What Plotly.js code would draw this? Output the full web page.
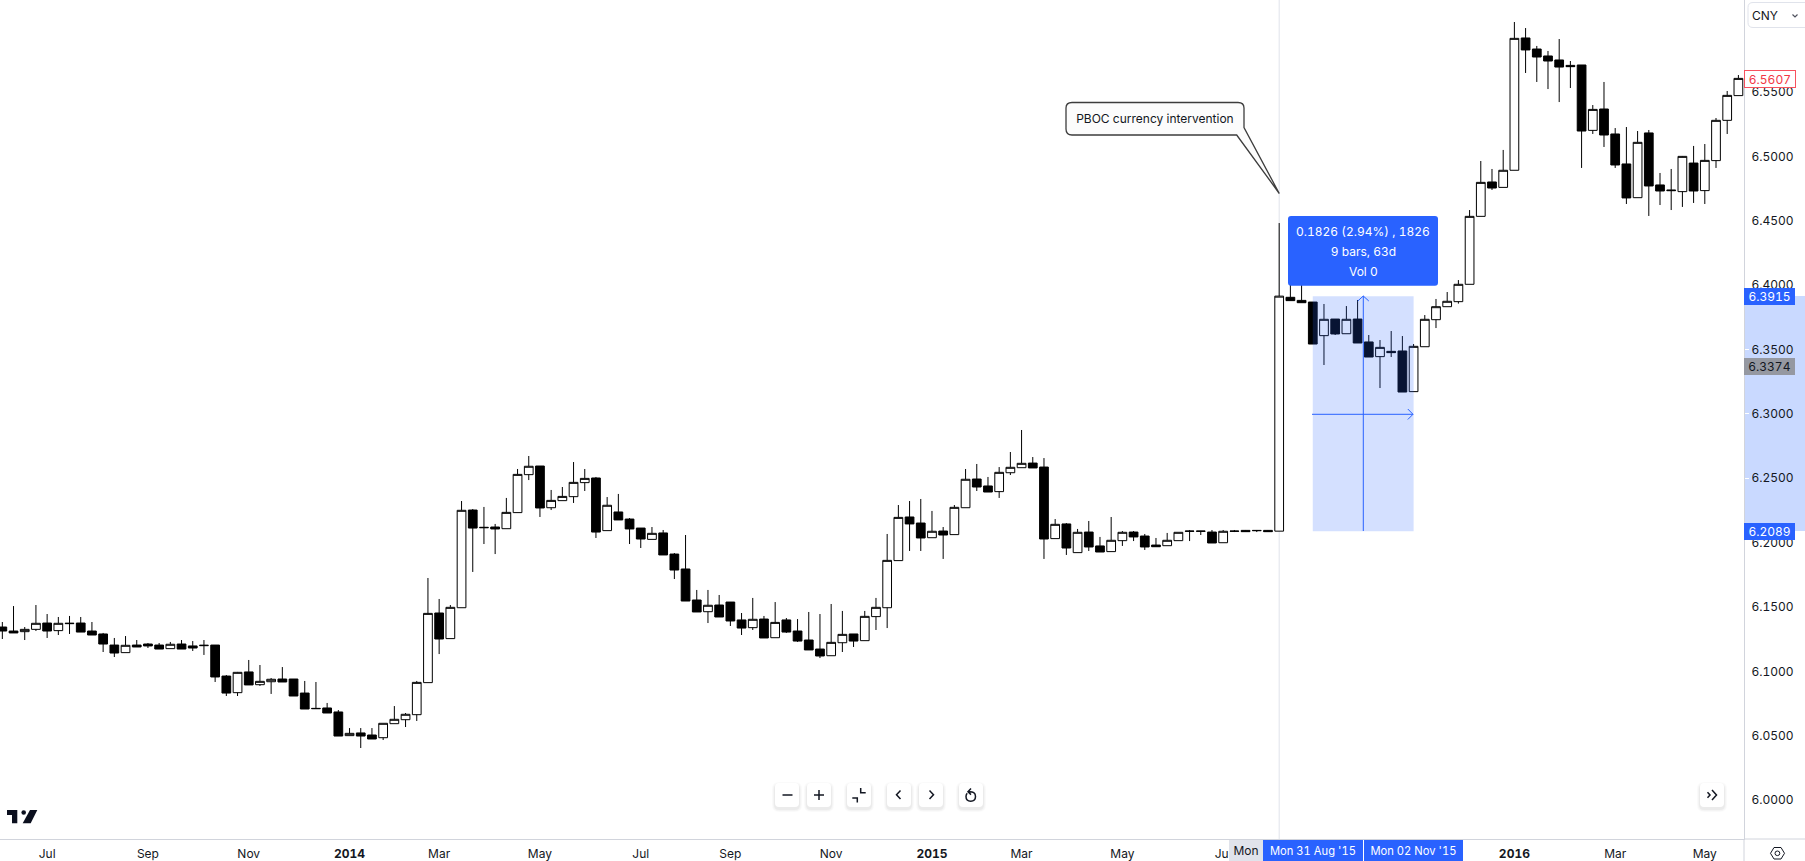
<!DOCTYPE html>
<html>
<head>
<meta charset="utf-8">
<title>USD/CNY weekly</title>
<script src="https://cdn.plot.ly/plotly-3.0.1.min.js"></script>
<style>html,body{margin:0;padding:0;background:#fff;overflow:hidden}#chart{width:1805px;height:861px}#chart text{font-variant-numeric:tabular-nums;font-feature-settings:"tnum"}</style>
</head>
<body>
<div id="chart"></div>
<script>
const dates = [
"2013-06-03","2013-06-10","2013-06-17","2013-06-24","2013-07-01","2013-07-08","2013-07-15","2013-07-22","2013-07-29",
"2013-08-05","2013-08-12","2013-08-19","2013-08-26","2013-09-02","2013-09-09","2013-09-16","2013-09-23","2013-09-30",
"2013-10-07","2013-10-14","2013-10-21","2013-10-28","2013-11-04","2013-11-11","2013-11-18","2013-11-25",
"2013-12-02","2013-12-09","2013-12-16","2013-12-23","2013-12-30","2014-01-06","2014-01-13","2014-01-20","2014-01-27",
"2014-02-03","2014-02-10","2014-02-17","2014-02-24","2014-03-03","2014-03-10","2014-03-17","2014-03-24","2014-03-31",
"2014-04-07","2014-04-14","2014-04-21","2014-04-28","2014-05-05","2014-05-12","2014-05-19","2014-05-26",
"2014-06-02","2014-06-09","2014-06-16","2014-06-23","2014-06-30","2014-07-07","2014-07-14","2014-07-21","2014-07-28",
"2014-08-04","2014-08-11","2014-08-18","2014-08-25","2014-09-01","2014-09-08","2014-09-15","2014-09-22","2014-09-29",
"2014-10-06","2014-10-13","2014-10-20","2014-10-27","2014-11-03","2014-11-10","2014-11-17","2014-11-24",
"2014-12-01","2014-12-08","2014-12-15","2014-12-22","2014-12-29","2015-01-05","2015-01-12","2015-01-19","2015-01-26",
"2015-02-02","2015-02-09","2015-02-16","2015-02-23","2015-03-02","2015-03-09","2015-03-16","2015-03-23","2015-03-30",
"2015-04-06","2015-04-13","2015-04-20","2015-04-27","2015-05-04","2015-05-11","2015-05-18","2015-05-25",
"2015-06-01","2015-06-08","2015-06-15","2015-06-22","2015-06-29","2015-07-06","2015-07-13","2015-07-20","2015-07-27",
"2015-08-03","2015-08-10","2015-08-17","2015-08-24","2015-08-31","2015-09-07","2015-09-14","2015-09-21","2015-09-28",
"2015-10-05","2015-10-12","2015-10-19","2015-10-26","2015-11-02","2015-11-09","2015-11-16","2015-11-23","2015-11-30",
"2015-12-07","2015-12-14","2015-12-21","2015-12-28","2016-01-04","2016-01-11","2016-01-18","2016-01-25",
"2016-02-01","2016-02-08","2016-02-15","2016-02-22","2016-02-29","2016-03-07","2016-03-14","2016-03-21","2016-03-28",
"2016-04-04","2016-04-11","2016-04-18","2016-04-25","2016-05-02","2016-05-09","2016-05-16","2016-05-23"];

const opens = [
6.1344,6.1313,6.1308,6.1326,6.1375,6.1316,6.1370,6.1375,6.1313,6.1290,
6.1204,6.1145,6.1204,6.1212,6.1204,6.1176,6.1212,6.1197,6.1199,6.1204,
6.0963,6.0834,6.0995,6.0896,6.0919,6.0940,6.0940,6.0831,6.0712,6.0715,
6.0684,6.0500,6.0521,6.0505,6.0484,6.0593,6.0624,6.0663,6.0912,6.1453,
6.1254,6.1494,6.2253,6.2119,6.2121,6.2108,6.2233,6.2528,6.2595,6.2271,
6.2326,6.2357,6.2466,6.2502,6.2093,6.2238,6.2183,6.2113,6.2025,6.2075,
6.1911,6.1795,6.1554,6.1463,6.1515,6.1538,6.1399,6.1339,6.1406,6.1261,
6.1399,6.1313,6.1243,6.1173,6.1121,6.1222,6.1290,6.1238,6.1425,6.1494,
6.1860,6.2199,6.2152,6.2038,6.2090,6.2062,6.2271,6.2494,6.2440,6.2396,
6.2543,6.2582,6.2618,6.2587,6.2031,6.2145,6.1922,6.2082,6.1974,6.1930,
6.2015,6.2082,6.2051,6.1981,6.1976,6.2015,6.2090,6.2090,6.2082,6.1999,
6.2090,6.2095,6.2095,6.2095,6.2089,6.3906,6.3882,6.3869,6.3608,6.3737,
6.3623,6.3737,6.3559,6.3445,6.3486,6.3489,6.3173,6.3522,6.3732,6.3833,
6.3872,6.4007,6.4535,6.4802,6.4760,6.4893,6.5921,6.5835,6.5781,6.5750,
6.5708,6.5711,6.5203,6.5369,6.5175,6.4942,6.4680,6.5183,6.4779,6.4740,
6.4727,6.4949,6.4735,6.4968,6.5281,6.5473];

const highs = [
6.1383,6.1507,6.1344,6.1515,6.1445,6.1422,6.1430,6.1422,6.1383,6.1298,
6.1259,6.1274,6.1243,6.1220,6.1220,6.1228,6.1243,6.1235,6.1243,6.1204,
6.0971,6.0995,6.1088,6.1049,6.0948,6.1033,6.0940,6.0925,6.0917,6.0754,
6.0699,6.0559,6.0559,6.0559,6.0596,6.0730,6.0676,6.0925,6.1725,6.1562,
6.1515,6.2323,6.2261,6.2277,6.2145,6.2347,6.2572,6.2673,6.2595,6.2409,
6.2432,6.2626,6.2572,6.2510,6.2354,6.2378,6.2191,6.2113,6.2121,6.2098,
6.1919,6.2059,6.1632,6.1632,6.1593,6.1538,6.1453,6.1570,6.1430,6.1538,
6.1414,6.1406,6.1461,6.1445,6.1523,6.1469,6.1290,6.1469,6.1570,6.2067,
6.2292,6.2323,6.2339,6.2246,6.2121,6.2292,6.2572,6.2611,6.2510,6.2587,
6.2704,6.2875,6.2665,6.2657,6.2183,6.2152,6.2106,6.2168,6.2044,6.2199,
6.2090,6.2090,6.2067,6.2036,6.2075,6.2080,6.2098,6.2090,6.2098,6.2098,
6.2098,6.2098,6.2098,6.2098,6.4483,6.4118,6.4066,6.3869,6.3854,6.3737,
6.3838,6.3885,6.3613,6.3574,6.3644,6.3605,6.3543,6.3768,6.3893,6.3947,
6.4040,6.4584,6.4965,6.4903,6.5051,6.6045,6.5998,6.5859,6.5820,6.5913,
6.5742,6.5711,6.5400,6.5579,6.5221,6.5229,6.5198,6.5206,6.4872,6.4903,
6.5004,6.5082,6.5097,6.5299,6.5509,6.5633];

const lows = [
6.1251,6.1298,6.1243,6.1313,6.1259,6.1282,6.1290,6.1305,6.1282,6.1150,
6.1111,6.1145,6.1189,6.1181,6.1173,6.1176,6.1173,6.1158,6.1127,6.0917,
6.0808,6.0808,6.0894,6.0886,6.0824,6.0917,6.0808,6.0707,6.0710,6.0676,
6.0497,6.0500,6.0404,6.0474,6.0466,6.0593,6.0567,6.0614,6.0912,6.1134,
6.1254,6.1494,6.1772,6.1989,6.1911,6.2108,6.2233,6.2486,6.2199,6.2253,
6.2326,6.2308,6.2401,6.2036,6.2093,6.2176,6.1989,6.1958,6.2025,6.1904,
6.1717,6.1546,6.1461,6.1375,6.1422,6.1352,6.1282,6.1321,6.1259,6.1261,
6.1298,6.1228,6.1166,6.1103,6.1121,6.1150,6.1189,6.1238,6.1321,6.1336,
6.1860,6.1935,6.1935,6.2038,6.1873,6.2062,6.2271,6.2401,6.2393,6.2347,
6.2525,6.2582,6.2580,6.1873,6.2031,6.1904,6.1922,6.1935,6.1927,6.1930,
6.1974,6.2012,6.1943,6.1968,6.1976,6.2015,6.2012,6.2059,6.1997,6.1999,
6.2082,6.2085,6.2082,6.2085,6.2089,6.3880,6.3864,6.3543,6.3380,6.3613,
6.3623,6.3551,6.3442,6.3201,6.3442,6.3170,6.3173,6.3522,6.3667,6.3833,
6.3857,6.4007,6.4535,6.4740,6.4760,6.4893,6.5649,6.5579,6.5524,6.5423,
6.5532,6.4911,6.5175,6.5074,6.4911,6.4631,6.4680,6.4538,6.4623,6.4584,
6.4608,6.4639,6.4631,6.4911,6.5175,6.5473];

const closes = [
6.1313,6.1298,6.1326,6.1373,6.1313,6.1373,6.1373,6.1305,6.1282,6.1212,
6.1142,6.1202,6.1189,6.1197,6.1173,6.1210,6.1173,6.1181,6.1202,6.0956,
6.0831,6.0992,6.0894,6.0922,6.0938,6.0917,6.0808,6.0707,6.0710,6.0676,
6.0497,6.0518,6.0497,6.0474,6.0596,6.0627,6.0666,6.0914,6.1450,6.1251,
6.1497,6.2251,6.2113,6.2116,6.2106,6.2235,6.2530,6.2593,6.2269,6.2328,
6.2359,6.2468,6.2499,6.2082,6.2290,6.2176,6.2106,6.2028,6.2072,6.1904,
6.1787,6.1546,6.1461,6.1513,6.1422,6.1391,6.1336,6.1404,6.1259,6.1380,
6.1305,6.1235,6.1166,6.1119,6.1225,6.1287,6.1235,6.1427,6.1497,6.1862,
6.2196,6.2145,6.2036,6.2088,6.2059,6.2274,6.2492,6.2432,6.2393,6.2546,
6.2585,6.2616,6.2580,6.2028,6.2142,6.1958,6.2080,6.1966,6.1927,6.2018,
6.2080,6.2044,6.1966,6.1968,6.2018,6.2080,6.2088,6.2088,6.1997,6.2088,
6.2088,6.2085,6.2093,6.2085,6.3915,6.3880,6.3864,6.3543,6.3735,6.3621,
6.3735,6.3551,6.3442,6.3517,6.3476,6.3170,6.3525,6.3735,6.3833,6.3875,
6.4007,6.4535,6.4799,6.4755,6.4893,6.5918,6.5828,6.5773,6.5742,6.5695,
6.5698,6.5198,6.5366,6.5167,6.4934,6.4678,6.5110,6.4771,6.4732,6.4735,
6.5001,6.4732,6.4970,6.5281,6.5475,6.5607];

const tickDates = ["2013-07-01","2013-09-02","2013-11-04","2014-01-06","2014-03-03","2014-05-05","2014-07-07","2014-09-01","2014-11-03","2015-01-05","2015-03-02","2015-05-04","2015-07-06","2016-01-04","2016-03-07","2016-05-02"];
const tickLabels = ["Jul","Sep","Nov","<b>2014</b>","Mar","May","Jul","Sep","Nov","<b>2015</b>","Mar","May","Jul","<b>2016</b>","Mar","May"];
const priceTicks = [6.00,6.05,6.10,6.15,6.20,6.25,6.30,6.35,6.40,6.45,6.50,6.55];
const priceLabels = ["6.0000","6.0500","6.1000","6.1500","6.2000","6.2500","6.3000","6.3500","6.4000","6.4500","6.5000","6.5500"];

const W = 1805, H = 861, PW = 1744, PH = 839;
const INK = "#131722", BLUE = "#2962ff", RULE = "#d1d4dc";
const FONT = "Inter, 'Noto Sans', sans-serif";
const fx = x => x / PW, fy = y => 1 - y / PH;
const path = s => s.replace(/(-?[\d.]+),(-?[\d.]+)/g, (m, a, b) => fx(+a) + "," + fy(+b));
const pathShape = (s, o) => Object.assign({type: "path", xref: "paper", yref: "paper", path: path(s), layer: "above", line: {width: 0}}, o || {});
const stroke = (s, color, w) => pathShape(s, {line: {color: color || INK, width: w || 1.5}});
const rrect = (x0, y0, x1, y1, r) =>
  `M${x0+r},${y0} L${x1-r},${y0} Q${x1},${y0} ${x1},${y0+r} L${x1},${y1-r} Q${x1},${y1} ${x1-r},${y1} L${x0+r},${y1} Q${x0},${y1} ${x0},${y1-r} L${x0},${y0+r} Q${x0},${y0} ${x0+r},${y0} Z`;

function button(x0, y0) {
  const x1 = x0 + 24, y1 = y0 + 24, list = [];
  [[3, 0.018], [2, 0.025], [1, 0.035]].forEach(([g, a]) =>
    list.push(pathShape(rrect(x0 - g, y0 + 2 - g, x1 + g, y1 + 2 + g, 4 + g), {fillcolor: `rgba(0,0,0,${a})`})));
  list.push(pathShape(rrect(x0, y0, x1, y1, 4), {fillcolor: "#ffffff"}));
  return list;
}

const shapes = [
  {type: "line", xref: "x", yref: "paper", x0: "2015-08-10", x1: "2015-08-10", y0: 0, y1: 1, layer: "below", line: {color: "#e0e3eb", width: 1}},
  pathShape(`M${PW},296 L${W},296 L${W},531 L${PW},531 Z`, {layer: "below", fillcolor: "#c9d9ff"}),
  {type: "rect", xref: "x", yref: "y", x0: "2015-08-31", x1: "2015-11-02", y0: 6.2089, y1: 6.3915, layer: "above", fillcolor: "rgba(41,98,255,0.2)", line: {width: 0}},
  stroke("M1363.3,531 L1363.3,296 M1357.8,301 L1363.3,296 L1368.8,301", BLUE, 1),
  stroke("M1312,414.3 L1413,414.3 M1407.8,409 L1413,414.3 L1407.8,419.5", BLUE, 1),
  pathShape("M1066,108 Q1066,102.5 1072,102.5 L1238,102.5 Q1244,102.5 1244,108 L1244,127.5 L1279.3,193.5 L1236.7,135 L1072,135 Q1066,135 1066,129 Z", {fillcolor: "#fcfcfc", line: {color: "#3d3d3d", width: 1.3}}),
  pathShape(rrect(1288, 216, 1438, 285.7, 3), {fillcolor: BLUE}),
  stroke(`M${PW},${PH} L${PW},${H} M${PW},${PH} L${W},${PH}`, RULE, 1),
  pathShape(rrect(1748, 2.5, 1812, 27.5, 5), {fillcolor: "#ffffff", line: {color: "#e0e3eb", width: 1}}),
  stroke("M1792.5,14.5 L1795,17 L1797.5,14.5", "#50535e", 1.2),
  // logo
  pathShape("M7,810 L17.3,810 L17.3,823.3 L12,823.3 L12,815 L7,815 Z", {fillcolor: "#0b0f1e"}),
  pathShape("M21.4,812.5 Q21.4,810.2 23.7,810.2 Q26,810.2 26,812.5 Q26,814.8 23.7,814.8 Q21.4,814.8 21.4,812.5 Z", {fillcolor: "#0b0f1e"}),
  pathShape("M30,810 L37.3,810 L30.7,823.3 L22.7,823.3 Z", {fillcolor: "#0b0f1e"}),
  // settings icon
  stroke("M1770.5,853.3 L1774,847.5 L1781,847.5 L1784.5,853.3 L1781,859 L1774,859 Z", INK, 1),
  stroke("M1775,853.3 Q1775,851 1777.4,851 Q1779.8,851 1779.8,853.3 Q1779.8,855.6 1777.4,855.6 Q1775,855.6 1775,853.3 Z", INK, 1)
];
[775, 807, 847, 887, 919, 959, 1700].forEach(x => button(x, 783).forEach(s => shapes.push(s)));
[
  "M782.5,795 L792.5,795",
  "M814,795 L824,795 M819,790 L819,800",
  "M852.3,798 L857.3,798 L857.3,802.5 M860.7,788 L860.7,792.7 L865.7,792.7",
  "M900.5,790.5 L896.5,794.7 L900.5,799",
  "M929.5,790.5 L933.5,794.7 L929.5,799",
  "M968.5,791.8 Q975.5,791.2 975.5,796.5 Q975.5,801.2 970.7,801.2 Q966,801.2 966,796.5 Q966,794.6 967.2,793.3 M971,788.6 L968,791.8 L971,794.6",
  "M1712,790 L1716.5,795 L1712,800 M1707.5,792.3 L1710,795 L1707.5,797.7"
].forEach(s => shapes.push(stroke(s, INK, 1.5)));

const label = (x, y, text, o) => Object.assign({
  xref: "paper", yref: "paper", x: fx(x), y: fy(y), text, showarrow: false,
  xanchor: "center", yanchor: "middle", borderpad: 0, borderwidth: 0,
  font: {family: FONT, size: 12, color: INK}, captureevents: false
}, o || {});
const boxed = (x0, x1, y0, y1, text, color, bg, o) => label((x0 + x1) / 2, (y0 + y1) / 2, text, Object.assign({
  width: x1 - x0, height: y1 - y0, bgcolor: bg, font: {family: FONT, size: 12, color}
}, o || {}));

const annotations = [
  label(1155, 118.7, "PBOC currency intervention", {font: {family: FONT, size: 12, color: INK}}),
  label(1363, 231.7, "0.1826 (2.94%) , 1826", {font: {family: FONT, size: 12, color: "#ffffff"}}),
  label(1363, 251.7, "9 bars, 63d", {font: {family: FONT, size: 12, color: "#ffffff"}}),
  label(1363, 271.7, "Vol 0", {font: {family: FONT, size: 12, color: "#ffffff"}}),
  boxed(1745, 1795, 71, 87, "6.5607", "#f23645", "#ffffff", {bordercolor: "#f7525f", borderwidth: 1}),
  boxed(1744, 1795, 288, 305, "6.3915", "#ffffff", BLUE),
  boxed(1744, 1795, 358, 375, "6.3374", INK, "#9598a1"),
  boxed(1744, 1795, 523, 540, "6.2089", "#ffffff", BLUE),
  boxed(1229, 1263, 840, 861, "Mon", INK, "#e0e3eb"),
  boxed(1263, 1363, 840, 861, "Mon 31 Aug '15", "#ffffff", BLUE, {font: {family: FONT, size: 11.2, color: "#ffffff"}}),
  boxed(1364, 1463, 840, 861, "Mon 02 Nov '15", "#ffffff", BLUE, {font: {family: FONT, size: 11.2, color: "#ffffff"}}),
  label(1752.5, 15.5, "CNY", {xanchor: "left"})
];

const trace = {
  type: "candlestick", x: dates, open: opens, high: highs, low: lows, close: closes,
  increasing: {fillcolor: "#ffffff", line: {color: "#000000", width: 1}},
  decreasing: {fillcolor: "#000000", line: {color: "#000000", width: 1}},
  whiskerwidth: 0, hoverinfo: "skip", showlegend: false
};

const layout = {
  width: W, height: H, margin: {l: 0, r: W - PW, t: 0, b: H - PH, pad: 0},
  paper_bgcolor: "#ffffff", plot_bgcolor: "#ffffff", showlegend: false, boxgap: 0.22, boxgroupgap: 0, hovermode: false,
  font: {family: FONT, size: 12, color: INK},
  xaxis: {
    type: "date", range: ["2013-06-01 13:03", "2016-05-26 12:00"], rangeslider: {visible: false},
    showgrid: false, zeroline: false, showline: true, linecolor: RULE, linewidth: 1,
    tickmode: "array", tickvals: tickDates, ticktext: tickLabels, ticks: "outside", ticklen: 4, tickcolor: "#ffffff",
    tickfont: {family: FONT, size: 12, color: INK}, fixedrange: true
  },
  yaxis: {
    side: "right", range: [5.9697, 6.6216], showgrid: false, zeroline: false, showline: true, linecolor: RULE, linewidth: 1,
    tickmode: "array", tickvals: priceTicks, ticktext: priceLabels, ticks: "outside", ticklen: 4, tickcolor: "#ffffff",
    tickfont: {family: FONT, size: 12, color: INK}, fixedrange: true
  },
  shapes, annotations
};

Plotly.newPlot("chart", [trace], layout, {displayModeBar: false, responsive: false, staticPlot: true});
</script>
</body>
</html>
